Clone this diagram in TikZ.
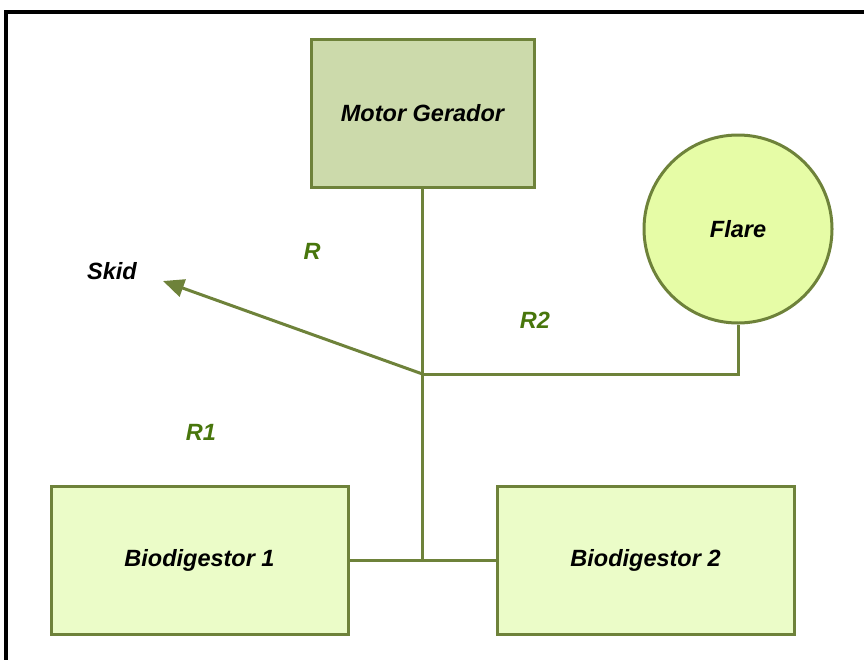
\documentclass[tikz,border=0pt]{standalone}
\usepackage{fontspec}
\setmainfont{Liberation Sans}
\usepackage{xcolor}
\usepackage{tikz}
\usetikzlibrary{positioning, arrows.meta, calc}

\definecolor{olivline}{RGB}{110,130,58}
\definecolor{motorfill}{RGB}{204,218,171}
\definecolor{biofill}{RGB}{235,252,200}
\definecolor{flarefill}{RGB}{230,252,166}
\definecolor{lblgreen}{RGB}{72,118,12}

\begin{document}
\begin{tikzpicture}[
  x=1pt, y=-1pt,
  font=\fontsize{23.5}{28}\selectfont\bfseries\itshape,
  unit/.style={draw=olivline, line width=3pt, align=center, inner sep=2pt},
  pipe/.style={draw=olivline, line width=3pt},
  arr/.style={pipe, -{Triangle[length=21pt, width=18pt]}},
  rlbl/.style={text=lblgreen, inner sep=1pt}
]
  \useasboundingbox (0,0) rectangle (864,659);

  % Moldura
  \draw[line width=3.5pt, line cap=rect] (6,659) -- (6,12) -- (864,12);

  % Unidades
  \node[unit, fill=motorfill, minimum width=223pt, minimum height=148pt] (motor) at (422.5,113) {Motor Gerador};
  \node[unit, fill=flarefill, circle, minimum size=188pt] (flare) at (738,229) {Flare};
  \node[unit, fill=biofill, minimum width=297pt, minimum height=148pt] (bio1) at (199.5,560) {Biodigestor 1};
  \node[unit, fill=biofill, minimum width=297pt, minimum height=148pt] (bio2) at (645.5,560) {Biodigestor 2};

  % Rótulos
  \node (skid) at (112,271) {Skid};
  \node[rlbl] (r) at (312,251) {R};
  \node[rlbl] (r2) at (535,320) {R2};
  \node[rlbl] (r1) at (201,432) {R1};

  % Pontos de ligação
  \coordinate (jct) at (motor.south |- 0,374);
  \coordinate (bjct) at (motor.south |- bio1.east);
  \coordinate (skidtip) at (163,281);

  % Tubulações
  \draw[pipe] (motor.south) -- (bjct);
  \draw[pipe] (bio1.east) -- (bio2.west);
  \draw[pipe] (jct) -| (flare.south);
  \draw[arr] (jct) -- (skidtip);
\end{tikzpicture}
\end{document}
